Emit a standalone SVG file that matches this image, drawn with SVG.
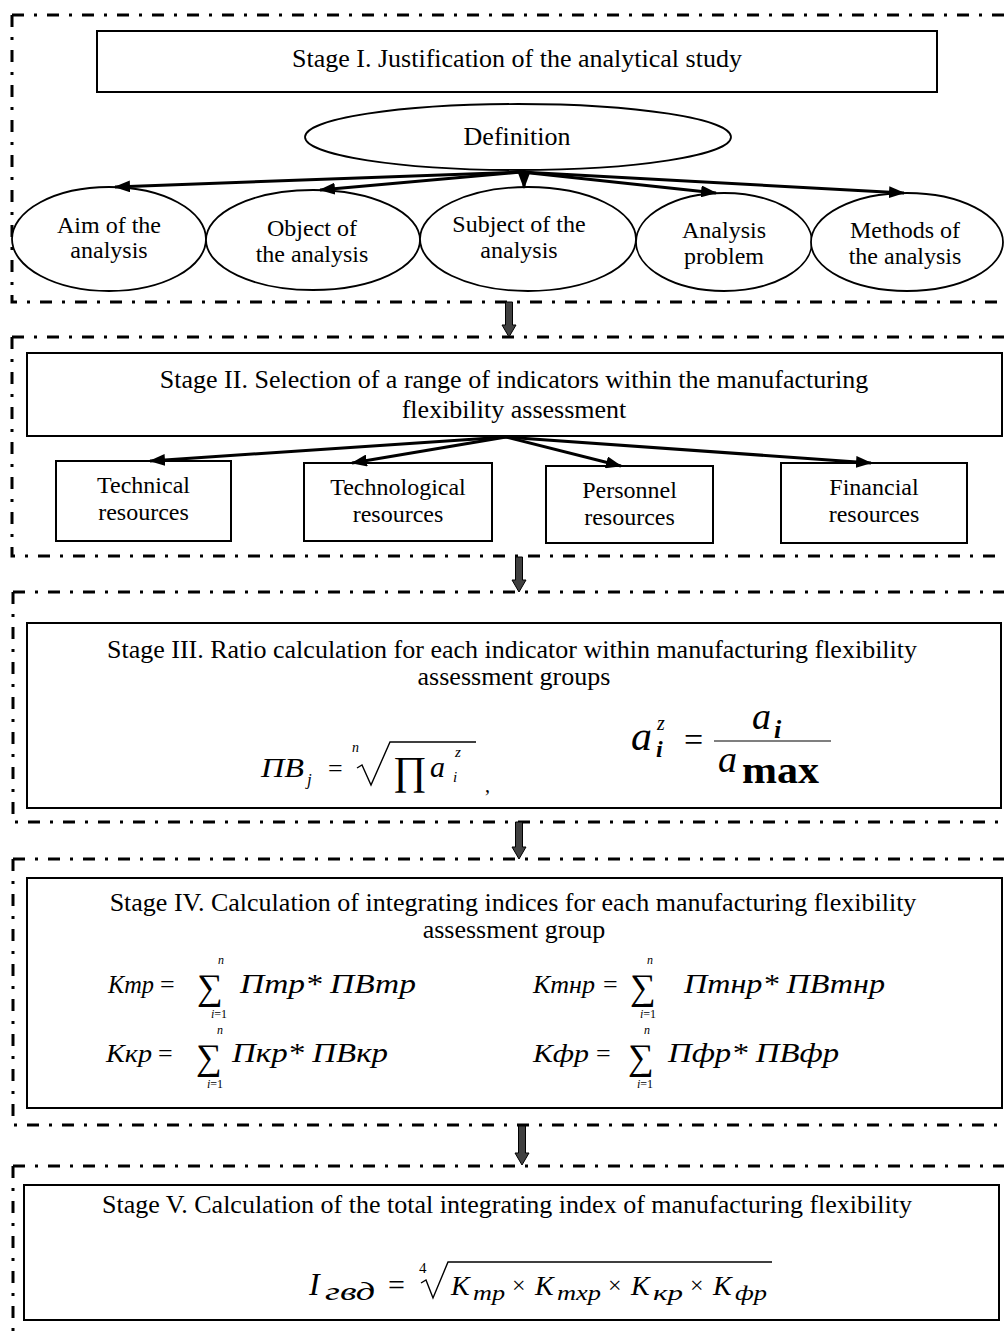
<svg xmlns="http://www.w3.org/2000/svg" width="1004" height="1333" viewBox="0 0 1004 1333">
<style>
.frame{fill:none;stroke:#000;stroke-width:3;stroke-dasharray:12 10 3 10}
.box{fill:#fff;stroke:#000;stroke-width:2}
.ell{fill:#fff;stroke:#000;stroke-width:1.8}
.t{font-family:"Liberation Serif","Times New Roman",serif;font-size:26px;text-anchor:middle;fill:#000}
.s{font-family:"Liberation Serif","Times New Roman",serif;font-size:24px;text-anchor:middle;fill:#000}
.f{font-family:"Liberation Serif","Times New Roman",serif;font-style:italic;fill:#000}
.u{font-family:"Liberation Serif","Times New Roman",serif;fill:#000}
.lim{font-family:"Liberation Serif","Times New Roman",serif;font-style:italic;font-size:12px;text-anchor:middle;fill:#000}
.conn{fill:none;stroke:#000;stroke-width:3;marker-end:url(#ah)}
.blk{fill:#404040;stroke:#000;stroke-width:1}
.rad{fill:none;stroke:#000;stroke-width:1.4}
</style>
<defs>
<marker id="ah" viewBox="0 0 16 12" refX="15" refY="6" markerWidth="16" markerHeight="12" markerUnits="userSpaceOnUse" orient="auto">
<path d="M0,0 L16,6 L0,12 z" fill="#000"/>
</marker>
</defs>
<rect width="1004" height="1333" fill="#fff"/>

<g id="frames">
<path class="frame" d="M12,15 H1004"/><path class="frame" d="M12,15 V302 H1004"/>
<path class="frame" d="M12,337 H1004"/><path class="frame" d="M12,337 V556 H1004"/>
<path class="frame" d="M13,592 H1004"/><path class="frame" d="M13,592 V822 H1004"/>
<path class="frame" d="M13,859 H1004"/><path class="frame" d="M13,859 V1125 H1004"/>
<path class="frame" d="M13,1166 H1004"/><path class="frame" d="M13,1166 V1333"/>
</g>

<g id="stage1">
<rect class="box" x="97" y="31" width="840" height="61"/>
<text class="t" x="517" y="67">Stage I. Justification of the analytical study</text>
</g>
<g id="definition">
<ellipse class="ell" cx="518" cy="137" rx="213" ry="33"/>
<text class="t" x="517" y="145">Definition</text>
</g>
<g id="aim">
<ellipse class="ell" cx="109" cy="239" rx="97" ry="52"/>
<text class="s" x="109" y="233">Aim of the</text><text class="s" x="109" y="258">analysis</text>
</g>
<g id="object">
<ellipse class="ell" cx="313" cy="240" rx="107" ry="50"/>
<text class="s" x="312" y="236">Object of</text><text class="s" x="312" y="262">the analysis</text>
</g>
<g id="subject">
<ellipse class="ell" cx="528" cy="239" rx="108" ry="52"/>
<text class="s" x="519" y="232">Subject of the</text><text class="s" x="519" y="258">analysis</text>
</g>
<g id="problem">
<ellipse class="ell" cx="724" cy="242" rx="88" ry="49"/>
<text class="s" x="724" y="238">Analysis</text><text class="s" x="724" y="264">problem</text>
</g>
<g id="methods">
<ellipse class="ell" cx="907" cy="242" rx="96" ry="49"/>
<text class="s" x="905" y="238">Methods of</text><text class="s" x="905" y="264">the analysis</text>
</g>

<g id="stage2">
<rect class="box" x="27" y="353" width="975" height="83"/>
<text class="t" x="514" y="388">Stage II. Selection of a range of indicators within the manufacturing</text>
<text class="t" x="514" y="418">flexibility assessment</text>
</g>
<g id="technical">
<rect class="box" x="56" y="461" width="175" height="80"/>
<text class="s" x="143.5" y="493">Technical</text><text class="s" x="143.5" y="520">resources</text>
</g>
<g id="technological">
<rect class="box" x="304" y="463" width="188" height="78"/>
<text class="s" x="398" y="495">Technological</text><text class="s" x="398" y="522">resources</text>
</g>
<g id="personnel">
<rect class="box" x="546" y="466" width="167" height="77"/>
<text class="s" x="629.5" y="498">Personnel</text><text class="s" x="629.5" y="525">resources</text>
</g>
<g id="financial">
<rect class="box" x="781" y="463" width="186" height="80"/>
<text class="s" x="874" y="495">Financial</text><text class="s" x="874" y="522">resources</text>
</g>

<g id="stage3">
<rect class="box" x="27" y="623" width="974" height="185"/>
<text class="t" x="512" y="658">Stage III. Ratio calculation for each indicator within manufacturing flexibility</text>
<text class="t" x="514" y="685">assessment groups</text>
<text class="f" x="261" y="777" font-size="28" textLength="43" lengthAdjust="spacingAndGlyphs">ПВ</text>
<text class="f" x="307" y="785" font-size="17">j</text>
<text class="u" x="328" y="777" font-size="26">=</text>
<text class="f" x="352" y="752" font-size="14">n</text>
<path class="rad" d="M357,768 L362,765 L371,785 L390,742 L476,742"/>
<text class="u" x="393" y="784" font-size="40" textLength="34" lengthAdjust="spacingAndGlyphs">∏</text>
<text class="f" x="430" y="777" font-size="30">a</text>
<text class="f" x="455" y="757" font-size="15">z</text>
<text class="f" x="453" y="782" font-size="15">i</text>
<text class="u" x="485" y="792" font-size="20">,</text>
<text class="f" x="631" y="750" font-size="42">a</text>
<text class="f" x="657" y="730" font-size="20">z</text>
<text class="f" x="656" y="757" font-size="24" font-weight="bold">i</text>
<text class="u" x="684" y="751" font-size="34">=</text>
<line x1="714" y1="741" x2="831" y2="741" stroke="#000" stroke-width="1.2"/>
<text class="f" x="752" y="729" font-size="38">a</text>
<text class="f" x="774" y="738" font-size="26" font-weight="bold">i</text>
<text class="f" x="718" y="772" font-size="38">a</text>
<text class="u" x="742" y="783" font-size="38" font-weight="bold" textLength="77" lengthAdjust="spacingAndGlyphs">max</text>
</g>

<g id="stage4">
<rect class="box" x="27" y="878" width="975" height="230"/>
<text class="t" x="513" y="911">Stage IV. Calculation of integrating indices for each manufacturing flexibility</text>
<text class="t" x="514" y="938">assessment group</text>
<text class="f" x="108" y="993" font-size="26" textLength="46" lengthAdjust="spacingAndGlyphs">Ктр</text>
<text class="u" x="160" y="993" font-size="26">=</text>
<text class="u" x="197" y="999" font-size="36">∑</text>
<text class="lim" x="221" y="964">n</text>
<text class="lim" x="219" y="1018">i<tspan font-style="normal">=1</tspan></text>
<text class="f" x="240" y="993" font-size="28" textLength="176" lengthAdjust="spacingAndGlyphs">Птр* ПВтр</text>

<text class="f" x="533" y="993" font-size="26" textLength="62" lengthAdjust="spacingAndGlyphs">Ктнр</text>
<text class="u" x="603" y="993" font-size="26">=</text>
<text class="u" x="630" y="999" font-size="36">∑</text>
<text class="lim" x="650" y="964">n</text>
<text class="lim" x="648" y="1018">i<tspan font-style="normal">=1</tspan></text>
<text class="f" x="684" y="993" font-size="28" textLength="201" lengthAdjust="spacingAndGlyphs">Птнр* ПВтнр</text>

<text class="f" x="106" y="1062" font-size="26" textLength="46" lengthAdjust="spacingAndGlyphs">Ккр</text>
<text class="u" x="158" y="1062" font-size="26">=</text>
<text class="u" x="196" y="1069" font-size="36">∑</text>
<text class="lim" x="220" y="1034">n</text>
<text class="lim" x="215" y="1088">i<tspan font-style="normal">=1</tspan></text>
<text class="f" x="232" y="1062" font-size="28" textLength="156" lengthAdjust="spacingAndGlyphs">Пкр* ПВкр</text>

<text class="f" x="533" y="1062" font-size="26" textLength="56" lengthAdjust="spacingAndGlyphs">Кфр</text>
<text class="u" x="596" y="1062" font-size="26">=</text>
<text class="u" x="628" y="1069" font-size="36">∑</text>
<text class="lim" x="647" y="1034">n</text>
<text class="lim" x="645" y="1088">i<tspan font-style="normal">=1</tspan></text>
<text class="f" x="668" y="1062" font-size="28" textLength="171" lengthAdjust="spacingAndGlyphs">Пфр* ПВфр</text>
</g>

<g id="stage5">
<rect class="box" x="24" y="1185" width="975" height="135"/>
<text class="t" x="507" y="1213">Stage V. Calculation of the total integrating index of manufacturing flexibility</text>
<text class="f" x="309" y="1295" font-size="32">I</text>
<text class="f" x="325" y="1300" font-size="26" textLength="50" lengthAdjust="spacingAndGlyphs">гвд</text>
<text class="u" x="388" y="1295" font-size="30">=</text>
<text class="u" x="419" y="1273" font-size="15">4</text>
<path class="rad" d="M421,1283 L426,1280 L433,1298 L448,1262 L772,1262"/>
<text class="f" x="451" y="1295" font-size="28">K</text>
<text class="f" x="473" y="1300" font-size="22" textLength="32" lengthAdjust="spacingAndGlyphs">тр</text>
<text class="u" x="512" y="1293" font-size="24">×</text>
<text class="f" x="535" y="1295" font-size="28">K</text>
<text class="f" x="557" y="1300" font-size="22" textLength="44" lengthAdjust="spacingAndGlyphs">тхр</text>
<text class="u" x="608" y="1293" font-size="24">×</text>
<text class="f" x="631" y="1295" font-size="28">K</text>
<text class="f" x="653" y="1300" font-size="22" textLength="30" lengthAdjust="spacingAndGlyphs">кр</text>
<text class="u" x="690" y="1293" font-size="24">×</text>
<text class="f" x="713" y="1295" font-size="28">K</text>
<text class="f" x="735" y="1300" font-size="22" textLength="32" lengthAdjust="spacingAndGlyphs">фр</text>
</g>

<g id="connectors">
<line class="conn" x1="521" y1="172" x2="115" y2="187"/>
<line class="conn" x1="521" y1="172" x2="320" y2="190"/>
<line class="conn" x1="524" y1="170" x2="524" y2="188"/>
<line class="conn" x1="521" y1="172" x2="716" y2="193"/>
<line class="conn" x1="521" y1="172" x2="904" y2="193"/>
<line class="conn" x1="506" y1="437" x2="150" y2="461"/>
<line class="conn" x1="506" y1="437" x2="352" y2="463"/>
<line class="conn" x1="506" y1="437" x2="621" y2="466"/>
<line class="conn" x1="506" y1="437" x2="871" y2="463"/>
<polygon class="blk" points="505.5,302 512.5,302 512.5,325 516,325 509,337 502,325 505.5,325"/>
<polygon class="blk" points="515.5,557 522.5,557 522.5,580 526,580 519,592 512,580 515.5,580"/>
<polygon class="blk" points="515.5,822 522.5,822 522.5,847 526,847 519,859 512,847 515.5,847"/>
<polygon class="blk" points="518.5,1126 525.5,1126 525.5,1153 529,1153 522,1165 515,1153 518.5,1153"/>
</g>
</svg>
